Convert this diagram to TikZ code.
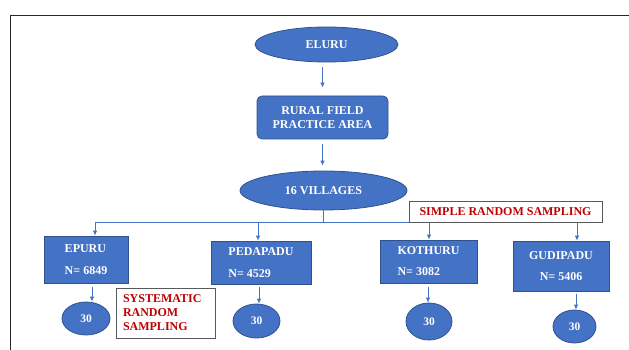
\documentclass[tikz,border=0pt]{standalone}
\usepackage{fontspec}
\setmainfont{Liberation Serif}
\usetikzlibrary{shapes.geometric,arrows.meta}
\definecolor{boxblue}{RGB}{68,114,196}
\definecolor{edgeblue}{RGB}{47,82,143}
\definecolor{darkred}{RGB}{192,0,0}
\definecolor{framegray}{RGB}{40,40,40}
\tikzset{
  lbl/.style={font=\fontsize{12}{14}\selectfont\bfseries, text=white},
  bluebox/.style={lbl, draw=edgeblue, line width=0.8pt, fill=boxblue, inner sep=0pt},
  oval/.style={bluebox, ellipse},
  rect/.style={bluebox, rectangle},
  note/.style={draw=black!65, line width=0.8pt, fill=white, text=darkred,
    font=\fontsize{12}{14}\selectfont\bfseries, inner sep=0pt},
  conn/.style={draw=boxblue, line width=0.8pt},
  arr/.style={conn, -{Latex[length=5pt,width=4.5pt]}}
}
\begin{document}
\begin{tikzpicture}[x=1pt,y=1pt]
\useasboundingbox (0,0) rectangle (629,-350);
\coordinate (ftl) at (10.7,-15.5);
\coordinate (ftr) at (629,-15.5);
\coordinate (fbl) at (10.7,-350);
\draw[framegray, line width=1.4pt] (fbl) -- (ftl) -- (ftr);

\node[oval, minimum width=143pt, minimum height=35pt] (eluru) at (326.5,-44.5) {ELURU};
\node[rect, rounded corners=5pt, minimum width=131pt, minimum height=43pt, align=center] (rural) at (322.5,-117.5) {RURAL FIELD\\PRACTICE AREA};
\node[oval, minimum width=167pt, minimum height=39pt] (vil) at (323.5,-190.5) {16 VILLAGES};

\node[rect, minimum width=84pt, minimum height=47pt, align=left] (epuru) at (86,-259.5) {EPURU\\[8pt]N= 6849};
\node[rect, minimum width=100pt, minimum height=43pt, align=left] (peda) at (261,-262.5) {PEDAPADU\\[8pt]N= 4529};
\node[rect, minimum width=97pt, minimum height=43pt, align=left] (koth) at (428.5,-261.5) {KOTHURU\\[7pt]N= 3082};
\node[rect, minimum width=96pt, minimum height=50pt, align=center] (gudi) at (561,-266) {GUDIPADU\\[7pt]N= 5406};

\node[oval, minimum width=48pt, minimum height=33pt, font=\fontsize{11.5}{14}\selectfont\bfseries] (c1) at (86,-318.5) {30};
\node[oval, minimum width=47pt, minimum height=34pt, font=\fontsize{11.5}{14}\selectfont\bfseries] (c2) at (256.5,-321) {30};
\node[oval, minimum width=46pt, minimum height=37pt, font=\fontsize{11.5}{14}\selectfont\bfseries] (c3) at (429,-321.5) {30};
\node[oval, minimum width=43pt, minimum height=33pt, font=\fontsize{11.5}{14}\selectfont\bfseries] (c4) at (574.5,-326.5) {30};

% connectors
\draw[arr] ([yshift=-5pt]eluru.south -| rural.north) -- ([yshift=8pt]rural.north);
\draw[arr] ([yshift=-5pt]rural.south) -- ([yshift=5pt]vil.north -| rural.south);

\coordinate (b1) at (95,-222);
\coordinate (b2) at (258,-222);
\coordinate (b3) at (429,-222);
\coordinate (b4) at (577,-222);
\draw[conn] (vil.south) -- (vil.south |- b1);
\draw[conn] (b1) -- (b4);
\draw[arr] (b1) -- (b1 |- epuru.north);
\draw[arr] (b2) -- (b2 |- peda.north);
\draw[arr] (b3) -- (b3 |- koth.north);
\draw[arr] (b4) -- (b4 |- gudi.north);

\coordinate (d1) at (92,-287);
\coordinate (d2) at (259,-287);
\coordinate (d3) at (428,-287);
\coordinate (d4) at (576,-294);
\draw[arr] (d1) -- (d1 |- c1.north);
\draw[arr] (d2) -- (d2 |- c2.north);
\draw[arr] (d3) -- (d3 |- c3.north);
\draw[arr] (d4) -- (d4 |- c4.north);

\node[note, minimum width=193pt, minimum height=21pt] (srs) at (505.5,-211.5) {SIMPLE RANDOM SAMPLING};
\node[note, minimum width=99pt, minimum height=50pt, align=left, text width=85pt] (sys) at (165.5,-313) {SYSTEMATIC\\RANDOM\\SAMPLING};
\end{tikzpicture}
\end{document}
